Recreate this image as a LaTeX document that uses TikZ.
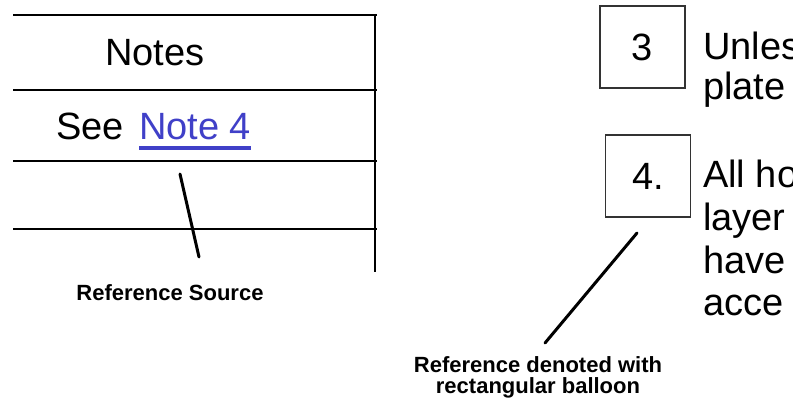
\documentclass[tikz,border=0pt]{standalone}
\usepackage{fontspec}
\setmainfont{Liberation Sans}
\usetikzlibrary{positioning}
\definecolor{linkblue}{RGB}{64,64,200}

\begin{document}
\begin{tikzpicture}[x=1pt, y=-1pt,
    tabline/.style={line width=2pt},
    tabtext/.style={font=\fontsize{38}{42}\selectfont, inner sep=0pt},
    balloon/.style={draw=black!80, line width=1.3pt, minimum width=85pt, minimum height=82pt,
        font=\fontsize{38}{42}\selectfont, inner sep=0pt},
    notetext/.style={font=\fontsize{38}{42}\selectfont, inner sep=0pt, anchor=base west},
    leader/.style={line width=3pt, line cap=round},
    caption/.style={font=\bfseries\fontsize{22}{23}\selectfont, align=center, inner sep=0pt}]
    \useasboundingbox (0,0) rectangle (793,401);
    \clip (0,0) rectangle (793,401);

    % --- 1. Notes table ---
    \draw[tabline] (13,15) -- (377,15);
    \draw[tabline] (13,90) -- (377,90);
    \draw[tabline] (13,161) -- (377,161);
    \draw[tabline] (13,229) -- (377,229);
    \draw[line width=2.5pt] (375,14) -- (375,272);

    \node[tabtext] (notes) at (155,52.5) {Notes};
    \node[tabtext, anchor=base west] (see) at (56,140) {See};
    \node[tabtext, linkblue, anchor=base west] (note4) at (139,140) {Note 4};
    \draw[linkblue, line width=4pt] ([yshift=-8.5pt]note4.base west) -- ([yshift=-8.5pt]note4.base east);

    % reference source
    \node[caption, anchor=base] (source) at (170,300) {Reference Source};
    \coordinate (src top) at (180,174);
    \coordinate (src end) at (199,257);
    \draw[leader] (src top) -- (src end);

    % --- 2. Notes with balloons ---
    \node[balloon] (box3) at (642.5,47) {3};
    \node[balloon] (box4) at (648,176) {4.};

    \node[notetext] (l31) at (703,60) {Unless};
    \node[notetext] (l32) at (703,100) {plate};
    \node[notetext] (l41) at (703,188) {All ho};
    \node[notetext] (l42) at (703,230) {layer};
    \node[notetext] (l43) at (703,273) {have};
    \node[notetext] (l44) at (703,315) {acce};

    % rectangular balloon label
    \node[caption, anchor=base] (balloonlbl) at (538,372) {Reference denoted with};
    \node[caption, anchor=base] (balloonlbl2) at (538,393.5) {rectangular balloon};
    \coordinate (box top) at (637,233);
    \coordinate (box end) at (545,343);
    \draw[leader] (box top) -- (box end);
\end{tikzpicture}
\end{document}
